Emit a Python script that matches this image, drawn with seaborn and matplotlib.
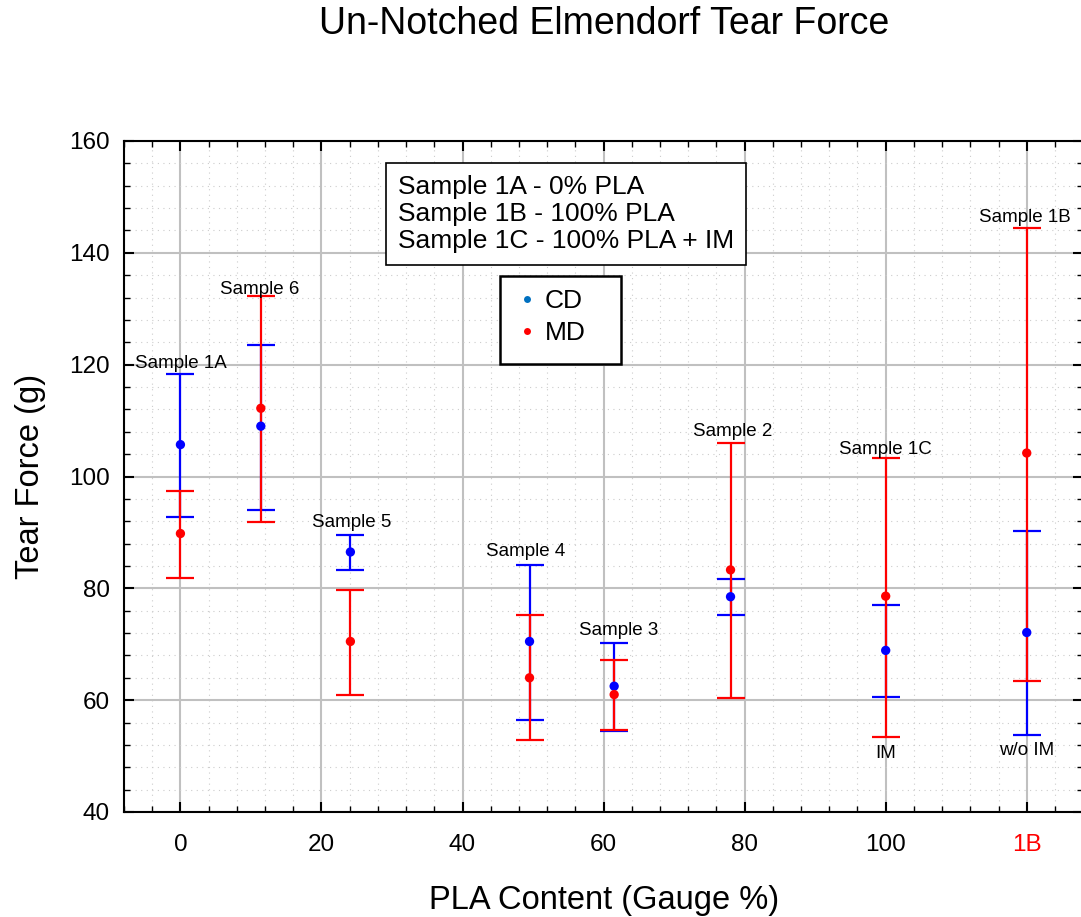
import numpy as np
import pandas as pd
import matplotlib
matplotlib.use("Agg")
import matplotlib.pyplot as plt
import seaborn as sns
from matplotlib.ticker import MultipleLocator
from matplotlib.lines import Line2D
from matplotlib.patches import Rectangle

# ---- data ----
samples = ["Sample 1A", "Sample 6", "Sample 5", "Sample 4", "Sample 3", "Sample 2", "Sample 1C", "Sample 1B"]
pla = [0, 11.4, 24.1, 49.5, 61.5, 78.0, 100.0, 120.0]
cd_mean = [105.7, 109.0, 86.5, 70.5, 62.5, 78.5, 68.9, 72.1]
cd_low = [92.8, 94.0, 83.2, 56.5, 54.5, 75.3, 60.6, 53.7]
cd_high = [118.3, 123.6, 89.5, 84.2, 70.2, 81.6, 77.0, 90.3]
md_mean = [89.8, 112.2, 70.5, 64.0, 61.0, 83.3, 78.6, 104.2]
md_low = [81.8, 91.8, 61.0, 52.8, 54.7, 60.3, 53.4, 63.5]
md_high = [97.4, 132.2, 79.7, 75.3, 67.2, 106.0, 103.3, 144.4]
label_x = [0, 11.2, 24.3, 48.9, 62.1, 78.3, 100.0, 119.7]
label_y = [120.2, 133.4, 91.8, 86.5, 72.4, 108.1, 104.9, 146.4]
extra_labels = ["IM", "w/o IM"]
extra_x = [100.0, 120.0]
extra_y = [50.5, 51.0]
xticks = [0, 20, 40, 60, 80, 100, 120]
xticklabels = ["0", "20", "40", "60", "80", "100", "1B"]
yticks = [40, 60, 80, 100, 120, 140, 160]
note_lines = ["Sample 1A - 0% PLA", "Sample 1B - 100% PLA", "Sample 1C - 100% PLA + IM"]

sns.set_style("white")
plt.rcParams['font.family'] = ['Liberation Sans', 'DejaVu Sans']
plt.rcParams['text.color'] = 'black'
plt.rcParams['axes.labelcolor'] = 'black'
plt.rcParams['xtick.color'] = 'black'
plt.rcParams['ytick.color'] = 'black'

W, H = 1081, 917
fig = plt.figure(figsize=(W / 100, H / 100), dpi=100)
ax = fig.add_axes([124 / W, 105 / H, (W - 124) / W + 0.002, 671 / H])

BLUE = "#0000ff"
RED = "#ff0000"

df = pd.DataFrame({"pla": pla + pla,
                   "force": cd_mean + md_mean,
                   "dir": ["CD"] * len(pla) + ["MD"] * len(pla)})

cd = np.array(cd_mean); md = np.array(md_mean)
ax.errorbar(pla, cd, yerr=[cd - np.array(cd_low), np.array(cd_high) - cd],
            fmt="none", ecolor=BLUE, elinewidth=1.6, capsize=10, capthick=1.6, zorder=3)
ax.errorbar(pla, md, yerr=[md - np.array(md_low), np.array(md_high) - md],
            fmt="none", ecolor=RED, elinewidth=1.6, capsize=10, capthick=1.6, zorder=4)
sns.scatterplot(data=df, x="pla", y="force", hue="dir", palette={"CD": BLUE, "MD": RED},
                s=45, linewidth=0, ax=ax, legend=False, zorder=5)

ax.set_xlim(-8, 128)
ax.set_ylim(40, 160)
ax.set_xticks(xticks)
ax.set_xticklabels(xticklabels)
ax.set_yticks(yticks)
ax.xaxis.set_minor_locator(MultipleLocator(4))
ax.yaxis.set_minor_locator(MultipleLocator(4))
ax.tick_params(which="major", direction="in", length=7, width=1.5, top=True, right=True,
               bottom=True, left=True, labelsize=17.5)
ax.tick_params(which="minor", direction="in", length=4, width=1.0, top=True, right=True,
               bottom=True, left=True)
ax.tick_params(axis="x", which="major", pad=16)
ax.tick_params(axis="y", which="major", pad=10)
ax.get_xticklabels()[-1].set_color(RED)
ax.grid(which="major", color="#c0c0c0", linewidth=1.5, linestyle="-", zorder=0)
ax.grid(which="minor", color="#cccccc", linewidth=0.8, linestyle=(0, (1, 4)), zorder=0)
ax.set_axisbelow(True)
for s in ax.spines.values():
    s.set_color("black")
    s.set_linewidth(1.5)

ax.set_xlabel("PLA Content (Gauge %)", fontsize=23.5, va="center")
ax.xaxis.set_label_coords(0.5, (812 - 901) / 671)
ax.set_ylabel("Tear Force (g)", fontsize=23.5, va="center")
ax.yaxis.set_label_coords((31 - 124) / 957, 0.5)
fig.text(604 / W, 1 - 24 / H, "Un-Notched Elmendorf Tear Force", fontsize=27,
         ha="center", va="center")

for name, lx, ly in zip(samples, label_x, label_y):
    ax.text(lx, ly, name, fontsize=13.5, ha="center", va="center", zorder=6)
for name, lx, ly in zip(extra_labels, extra_x, extra_y):
    ax.text(lx, ly, name, fontsize=13.5, ha="center", va="center", zorder=6)

# note box
fig.text(398 / W, 1 - 214 / H, "\n".join(note_lines), fontsize=19, ha="left", va="center",
         linespacing=1.17,
         bbox=dict(boxstyle="square,pad=0.45", facecolor="white", edgecolor="black", linewidth=1.2),
         zorder=10)

# legend
fig.patches.append(Rectangle((500 / W, 1 - 364 / H), 121 / W, 88 / H, transform=fig.transFigure,
                             facecolor="white", edgecolor="black", linewidth=1.8, zorder=10))
handles = [Line2D([0], [0], marker="o", linestyle="", markersize=5, color="#0070c0", markeredgewidth=0),
           Line2D([0], [0], marker="o", linestyle="", markersize=5, color=RED, markeredgewidth=0)]
leg = fig.legend(handles, ["CD", "MD"], loc="upper left", bbox_to_anchor=(514 / W, 1 - 289 / H),
                 fontsize=19, frameon=False, handlelength=1.0, handletextpad=0.17,
                 borderpad=0, labelspacing=0.31, borderaxespad=0)
leg.set_zorder(11)

fig.savefig("out.png", dpi=100)
